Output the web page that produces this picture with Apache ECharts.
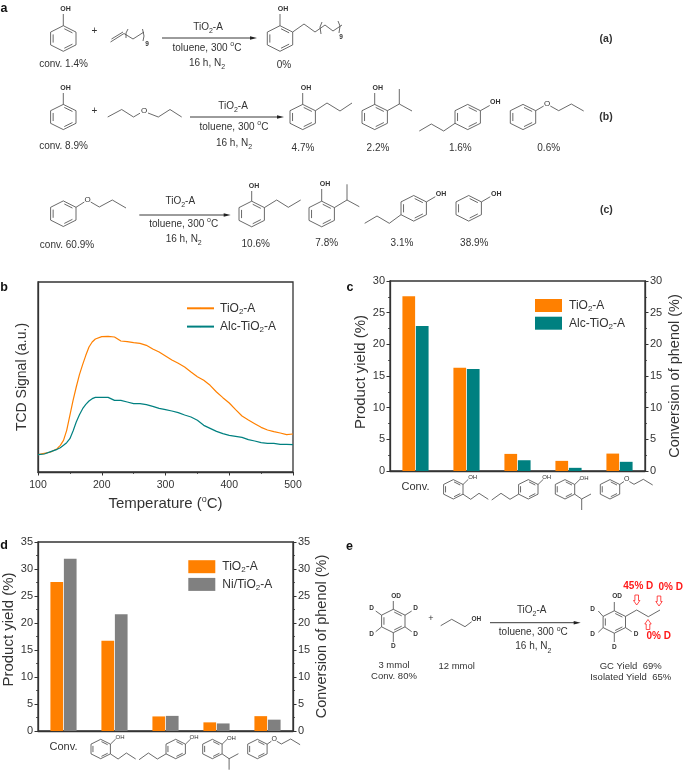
<!DOCTYPE html>
<html><head><meta charset="utf-8">
<style>html,body{margin:0;padding:0;background:#fff}#c{width:685px;height:771px}</style>
<script src="https://cdn.jsdelivr.net/npm/echarts@6/dist/echarts.min.js"></script>
</head><body><div id="c"></div>
<script>
// ---- panel b: TCD signal
const temperature=[100,110,120,130,135,140,145,150,155,160,165,170,175,180,185,190,200,210,220,230,240,250,260,270,280,290,300,310,320,330,340,350,360,370,380,390,400,410,420,430,440,450,460,470,480,490,500];
const tcdTiO2=[52,56,60,70,80,95,125,170,215,255,292,322,350,375,390,399,406,407,405,393,391,388,386,380,369,360,348,336,326,315,300,286,275,260,240,223,207,187,168,156,145,134,126,121,117,112,114];
const tcdAlc=[52,54,61,68,73,80,88,100,123,150,172,190,203,213,220,224,224,224,215,215,210,205,205,202,197,191,187,183,178,171,165,155,140,131,122,115,110,107,104,97,93,88,86,86,83,83,82];
// ---- panels c, d: yields
const products=['Conv.','2-propylphenol + 4-propylphenol','4-propylphenol','2-isopropylphenol','propoxybenzene'];
const cTiO2=[27.6,16.3,2.7,1.6,2.75];
const cAlc=[22.9,16.1,1.7,0.5,1.45];
const dTiO2=[27.6,16.7,2.7,1.6,2.75];
const dNi=[31.9,21.6,2.8,1.4,2.1];

const ORANGE='#ff8000',TEAL='#008080',GRAY='#808080',INK='#333';
const SANS='"Liberation Sans",Arial,sans-serif';
const richSS={sub:{fontSize:8,verticalAlign:'bottom',lineHeight:15,fontFamily:SANS,color:INK},sup:{fontSize:8,verticalAlign:'top',lineHeight:15,fontFamily:SANS,color:INK}};

// ---- drawing helpers for the chemical schemes
const G=[];
const line=(pts,o={})=>G.push({type:'polyline',silent:true,shape:{points:pts},style:{stroke:o.c||'#444',lineWidth:o.w||0.8,fill:null}});
const txt=(x,y,t,o={})=>{const fs=o.fs||10;G.push({type:'text',silent:true,x,y,style:{text:t,x:0,y:0,fill:o.c||INK,font:(o.b?'bold ':'')+fs+'px '+SANS,align:o.a||'center',verticalAlign:'middle',rich:{
 r:{font:(o.b?'bold ':'')+fs+'px '+SANS,fill:o.c||INK,lineHeight:15},
 s:{font:'7px '+SANS,fill:o.c||INK,verticalAlign:'bottom',lineHeight:15},
 u:{font:'7px '+SANS,fill:o.c||INK,verticalAlign:'top',lineHeight:13}}}});};
function ring(cx,cy,rx,ry){
 const v=[[cx,cy-ry],[cx+rx,cy-ry/2],[cx+rx,cy+ry/2],[cx,cy+ry],[cx-rx,cy+ry/2],[cx-rx,cy-ry/2]];
 line(v.concat([v[0]]));
 const C=[cx,cy],lp=(a,b,t)=>[a[0]+(b[0]-a[0])*t,a[1]+(b[1]-a[1])*t];
 [[0,1],[2,3],[4,5]].forEach(([i,j])=>{const a=lp(v[i],C,.2),b=lp(v[j],C,.2);line([lp(a,b,.1),lp(a,b,.9)]);});
}
function oh(x,y,t,fs){txt(x,y,t||'OH',{fs:fs||7,b:true});}
function arrow(x1,x2,y){line([[x1,y],[x2-4,y]],{w:0.9,c:'#222'});G.push({type:'polygon',silent:true,shape:{points:[[x2,y],[x2-7,y-1.8],[x2-7,y+1.8]]},style:{fill:'#222'}});}
function conditions(x0,x1,x2,yA,yB,yC){txt(x0,yA,'{r|TiO}{s|2}{r|-A}');txt(x1,yB,'{r|toluene, 300 }{u|o}{r|C}');txt(x2,yC,'{r|16 h, N}{s|2}');}
function blockArrow(x,y,dir){const s=dir,h=5;line([[x-1.8,y-s*h],[x+1.8,y-s*h],[x+1.8,y+s*h*.1],[x+3.2,y+s*h*.1],[x,y+s*h],[x-3.2,y+s*h*.1],[x-1.8,y+s*h*.1],[x-1.8,y-s*h]],{c:'#ff2020',w:0.8});}

// panel letters
[['a',4,9],['b',4,288],['c',350,288],['d',4,546],['e',349.5,546.5]].forEach(p=>txt(p[1],p[2],p[0],{fs:12.5,b:true,c:'#111'}));

// Row (a)
ring(63.3,38.5,12.7,12.8);line([[63.3,25.7],[63.3,14]]);oh(65.5,9);
txt(94.5,31,'+',{fs:10});
line([[110.5,42],[124,33.5],[133,39],[144,32]]);line([[111.5,39],[123,32]]);
line([[128,29],[126,33],[126,38]]);line([[142.5,29],[144,36],[143,41]]);txt(147,44.5,'9',{fs:6.5,b:true});
arrow(162,257,38);conditions(208,207,207,27,48,63);
ring(280,38.5,12.7,12.8);line([[280,25.7],[280,14]]);oh(283,9);
line([[292.7,32],[304,24],[315,32],[325,25],[333,31],[342,25]]);
line([[322,22],[320,27],[321,34]]);line([[338,21],[340,26],[339,33]]);txt(341,37,'9',{fs:6.5,b:true});
txt(63.5,64.5,'conv. 1.4%');txt(284,65,'0%');txt(606,39,'(a)',{fs:10.5,b:true});

// Row (b)
ring(63.3,117,12.7,12.6);line([[63.3,104.4],[63.3,93]]);oh(65.5,88);
txt(94.5,111,'+',{fs:10});
line([[107.7,117],[121.7,109.5],[133.5,117],[140,113.2]]);txt(144,110.5,'O',{fs:8});line([[148,113],[158.3,117],[170,109.5],[181.7,117]]);
arrow(190,284,117);conditions(233,234,234,106,127,143);
ring(302.7,117,12.7,12.6);line([[302.7,104.4],[302.7,93]]);oh(306,88);line([[315.4,110.7],[327,103],[340,111],[352,103]]);
ring(374.7,117,12.7,12.6);line([[374.7,104.4],[374.7,93]]);oh(377.7,88);line([[387.4,110.7],[399.3,104],[412,111]]);line([[399.3,104],[399.3,89]]);
ring(467.7,117,12.7,12.6);line([[480.4,110.7],[489.7,105.5]]);oh(495.3,102);line([[455,123.3],[443.7,131],[431.3,124],[419.3,131]]);
ring(523,117,12.7,12.6);line([[535.7,110.7],[543.7,106]]);txt(547,103.3,'O',{fs:8});line([[550.3,106],[558.7,110.7],[571.3,104],[583.7,111]]);
txt(63.5,146,'conv. 8.9%');txt(303,148,'4.7%');txt(378,148,'2.2%');txt(460.3,148,'1.6%');txt(548.7,148,'0.6%');txt(606,117,'(b)',{fs:10.5,b:true});

// Row (c)
ring(63.3,213.7,12.7,12.8);line([[76,207.3],[84.3,202]]);txt(87.7,200,'O',{fs:8});line([[90.7,202],[99.3,207],[112.3,200],[126,208]]);
arrow(139.3,230.7,215);conditions(180.3,183.7,183.7,201,224,239);
ring(251.7,214,12.7,12.8);line([[251.7,201.2],[251.7,191]]);oh(254,186);line([[264.4,207.6],[276.7,200],[288.3,207.3],[300.7,200]]);
ring(321.7,214,12.7,12.8);line([[321.7,201.2],[321.7,189]]);oh(325,184);line([[334.4,207.6],[347,200],[359.3,206.7]]);line([[347,200],[347,184.3]]);
ring(413.7,208.3,12.7,12.8);line([[426.4,201.9],[435.3,196.7]]);oh(441,194.3);line([[401,214.7],[389.3,223.3],[377,216],[364.7,223.3]]);
ring(468.7,208.3,12.7,12.8);line([[481.4,201.9],[490.3,196.7]]);oh(496.3,193.7);
txt(67,245,'conv. 60.9%');txt(255.7,244.5,'10.6%');txt(326.7,243,'7.8%');txt(402,243,'3.1%');txt(474.3,243,'38.9%');txt(606.3,210,'(c)',{fs:10.5,b:true});

// structures under the bar chart axes
function axisStructures(d,e){
 const R=9.7,y=489.3+e,X=x=>x+d,Y=v=>v+e,L=a=>line(a.map(p=>[X(p[0]),Y(p[1])]));
 const o=(x,yy,t,fs)=>txt(X(x),Y(yy),t,{fs:fs||6});
 ring(X(453.3),y,R,R);L([[463,484.5],[468.3,479.3]]);o(472.7,477.7,'OH');L([[463,494.2],[470.7,499.3],[479,493.3],[488.3,499.3]]);
 ring(X(528.3),y,R,R);L([[538,484.5],[543.3,479.3]]);o(546.7,477.7,'OH');L([[518.6,494.2],[510,499.3],[501,493.3],[491.7,500]]);
 ring(X(565),y,R,R);L([[574.7,484.5],[580,479.3]]);o(584,478.3,'OH');L([[574.7,494.2],[581.7,499],[591,494]]);L([[581.7,499],[581.7,510]]);
 ring(X(610),y,R,R);L([[619.7,484.5],[624,481.5]]);o(626.7,479.3,'O',7);L([[629.3,481.5],[634,484.3],[643.3,479.3],[652.7,485]]);
}
axisStructures(0,0);axisStructures(-352.6,259.7);

// Panel e
ring(393.3,621,11.7,11.7);line([[393.3,609.3],[393.3,601]]);txt(396,596.3,'OD',{fs:6.5,b:true});
line([[381.6,615.2],[375.7,611]]);txt(371.7,608.3,'D',{fs:6.5,b:true});
line([[405,615.2],[411.7,611]]);txt(415.7,608.3,'D',{fs:6.5,b:true});
line([[381.6,626.9],[375.7,631.7]]);txt(371.7,634,'D',{fs:6.5,b:true});
line([[405,626.9],[411.7,631.7]]);txt(415.7,634,'D',{fs:6.5,b:true});
line([[393.3,632.7],[393.3,642]]);txt(393.3,646.7,'D',{fs:6.5,b:true});
txt(431,618.7,'+',{fs:9});
line([[440.7,625.7],[451.7,619.3],[465,626.7],[471.7,621.7]]);txt(471.5,619.3,'OH',{fs:6.5,a:'left',b:true});
arrow(490,580.7,622.7);conditions(531.7,533.3,533.3,610,632.7,646.7);
ring(614.3,622,11.2,11.2);line([[614.3,610.8],[614.3,602]]);txt(617,596.7,'OD',{fs:6.5,b:true});
line([[603.1,616.4],[598.3,611]]);txt(592.7,609.3,'D',{fs:6.5,b:true});
line([[603.1,627.6],[598.3,632.3]]);txt(592.7,634.3,'D',{fs:6.5,b:true});
line([[625.5,627.6],[631.7,631.7]]);txt(636,634,'D',{fs:6.5,b:true});
line([[614.3,633.2],[614.3,642]]);txt(614.3,647,'D',{fs:6.5,b:true});
line([[625.5,616.4],[636.7,610],[648.3,616.7],[660,610]]);
const RED='#ff1a1a';
txt(638.3,586.7,'45% D',{b:true,c:RED});txt(670.7,587.3,'0% D',{b:true,c:RED});txt(658.7,636,'0% D',{b:true,c:RED});
blockArrow(636.7,600,1);blockArrow(659,601,1);blockArrow(648,624.5,-1);
txt(394,665.3,'3 mmol',{fs:9.5});txt(394,676.3,'Conv. 80%',{fs:9.5});txt(456.7,666.3,'12 mmol',{fs:9.5});
txt(630.7,666.3,'GC Yield  69%',{fs:9.5});txt(630.7,677,'Isolated Yield  65%',{fs:9.5});

// ---- chart options
const tickFont={fontFamily:SANS,fontSize:11,color:INK};
const axisLine={show:true,lineStyle:{color:INK,width:1.3}};
const yAxisBar=(grid,max,pos,gap,shift)=>({type:'value',gridIndex:grid,position:pos,min:0,max,interval:5,
 name:pos==='left'?'Product yield (%)':'Conversion of phenol (%)',nameLocation:'middle',nameGap:gap,nameRotate:90,
 nameTextStyle:{fontFamily:SANS,fontSize:pos==='left'?15:14.5,color:INK,padding:[0,0,0,shift||0]},
 axisLine,axisTick:{show:true,inside:false,length:3.5,lineStyle:{color:INK,width:1}},
 minorTick:{show:true,splitNumber:2,length:2,lineStyle:{color:INK,width:0.8}},
 axisLabel:Object.assign({margin:5,showMinLabel:true,showMaxLabel:true},tickFont),splitLine:{show:false}});
const xCat=grid=>({type:'category',gridIndex:grid,data:products,axisLine,axisTick:{show:false},
 axisLabel:{interval:0,margin:10,fontFamily:SANS,fontSize:11,color:INK,formatter:v=>v==='Conv.'?v:''}});
const bar=(name,data,color,g)=>({type:'bar',name,data,xAxisIndex:g,yAxisIndex:g===1?1:3,barWidth:12.7,barGap:'6%',itemStyle:{color},animation:false});
const curve=(name,vals,color)=>({type:'line',name,data:temperature.map((t,i)=>[t,vals[i]]),xAxisIndex:0,yAxisIndex:0,showSymbol:false,symbol:'none',lineStyle:{color,width:1.2},itemStyle:{color},animation:false,z:3});
const legendLabel=n=>n.split(': ')[1].replace('2','{sub|2}');
const legendCommon={orient:'vertical',padding:0,selectedMode:false,formatter:legendLabel,textStyle:{fontFamily:SANS,fontSize:12,color:INK,lineHeight:15,rich:richSS},itemWidth:27};

const option={animation:false,backgroundColor:'#fff',
 grid:[{left:38,top:282,width:255,height:190,show:true,borderColor:INK,borderWidth:1.3},
       {left:390,top:281,width:255,height:190,show:true,borderColor:INK,borderWidth:1.3},
       {left:37,top:542,width:256,height:189,show:true,borderColor:INK,borderWidth:1.3}],
 xAxis:[{type:'value',gridIndex:0,min:100,max:500,interval:100,
   name:'Temperature ({sup|o}C)',nameLocation:'middle',nameGap:23,
   nameTextStyle:{fontFamily:SANS,fontSize:15,color:INK,lineHeight:17,rich:{sup:{fontSize:9,verticalAlign:'top',lineHeight:17,color:INK}}},
   axisLine,axisTick:{length:3.5,lineStyle:{color:INK,width:1}},minorTick:{show:true,splitNumber:2,length:2,lineStyle:{color:INK,width:0.8}},
   axisLabel:Object.assign({margin:8},tickFont,{fontSize:10.5}),splitLine:{show:false}},
  xCat(1),xCat(2)],
 yAxis:[{type:'value',gridIndex:0,min:0,max:570,name:'TCD Signal (a.u.)',nameLocation:'middle',nameGap:9,nameRotate:90,
   nameTextStyle:{fontFamily:SANS,fontSize:14,color:INK},axisLine,axisTick:{show:false},axisLabel:{show:false},splitLine:{show:false}},
  yAxisBar(1,30,'left',22,8),yAxisBar(1,30,'right',22),yAxisBar(2,35,'left',22,14),yAxisBar(2,35,'right',20)],
 legend:[
  Object.assign({},legendCommon,{left:186,top:300.8,data:['b: TiO2-A','b: Alc-TiO2-A'],itemGap:3.3,itemHeight:1.5,textStyle:Object.assign({},legendCommon.textStyle,{padding:[0,0,0,1]})}),
  Object.assign({},legendCommon,{left:535,top:298,icon:'rect',data:['c: TiO2-A','c: Alc-TiO2-A'],itemGap:2.7,itemHeight:13,textStyle:Object.assign({},legendCommon.textStyle,{padding:[0,0,0,2]})}),
  Object.assign({},legendCommon,{left:188.3,top:559.2,icon:'rect',data:['d: TiO2-A','d: Ni/TiO2-A'],itemGap:2.7,itemHeight:13,textStyle:Object.assign({},legendCommon.textStyle,{padding:[0,0,0,2]})})],
 series:[curve('b: TiO2-A',tcdTiO2,ORANGE),curve('b: Alc-TiO2-A',tcdAlc,TEAL),
  bar('c: TiO2-A',cTiO2,ORANGE,1),bar('c: Alc-TiO2-A',cAlc,TEAL,1),
  bar('d: TiO2-A',dTiO2,ORANGE,2),bar('d: Ni/TiO2-A',dNi,GRAY,2)],
 graphic:{elements:G}};
echarts.init(document.getElementById('c'),null,{renderer:'canvas'}).setOption(option);
</script></body></html>
